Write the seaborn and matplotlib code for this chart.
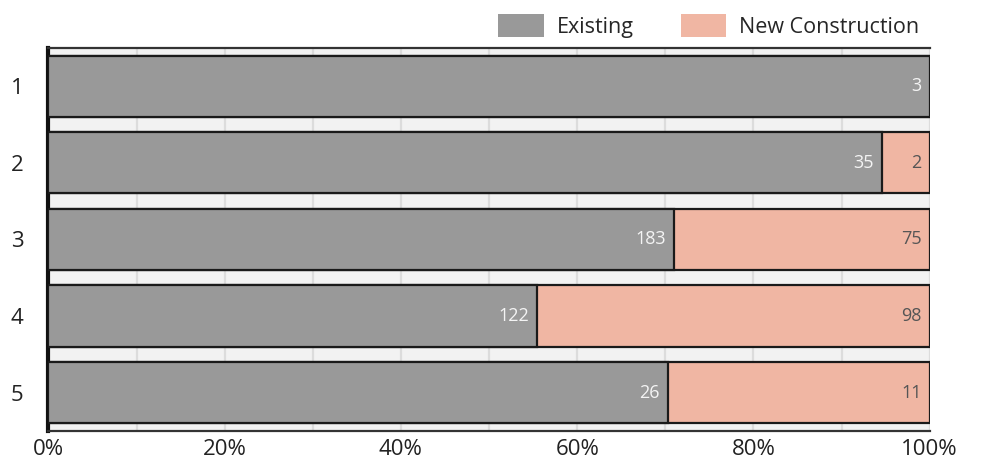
import numpy as np
import pandas as pd
import matplotlib
matplotlib.use("Agg")
import matplotlib.pyplot as plt
import matplotlib.ticker as mticker
from matplotlib.patches import Patch
import seaborn as sns

categories = ["1", "2", "3", "4", "5"]
existing = [3, 35, 183, 122, 26]
new_construction = [0, 2, 75, 98, 11]
series_names = ["Existing", "New Construction"]
colors = ["#999999", "#F0B6A3"]

df = pd.DataFrame({"category": categories,
                   "existing": existing,
                   "new": new_construction})
df["total"] = df["existing"] + df["new"]
df["existing_pct"] = df["existing"] / df["total"] * 100
df["full_pct"] = 100.0

sns.set_theme(style="white")
plt.rcParams["font.family"] = ["Open Sans", "DejaVu Sans"]

fig, ax = plt.subplots(figsize=(9.88, 4.7), dpi=100)
fig.subplots_adjust(left=0.049, right=0.941, top=0.898, bottom=0.083)
ax.set_facecolor("#f2f2f2")

# full-width salmon bars underneath, existing share drawn on top
sns.barplot(data=df, x="full_pct", y="category", orient="h", color=colors[1],
            saturation=1, width=0.8, edgecolor="#1a1a1a", linewidth=1.6,
            ax=ax, zorder=3)
sns.barplot(data=df, x="existing_pct", y="category", orient="h", color=colors[0],
            saturation=1, width=0.8, edgecolor="#1a1a1a", linewidth=1.6,
            ax=ax, zorder=4)

# value labels at the right end of each segment
for i, row in df.iterrows():
    ax.text(row["existing_pct"] - 0.9, i, f"{row['existing']}",
            ha="right", va="center", color="#f4f4f4", fontsize=13, zorder=6)
    if row["new"] > 0:
        ax.text(99.1, i, f"{row['new']}", ha="right", va="center",
                color="#555555", fontsize=13, zorder=6)

ax.set_xlim(0, 100)
ax.set_ylim(4.5, -0.5)
ax.xaxis.set_major_locator(mticker.MultipleLocator(20))
ax.xaxis.set_minor_locator(mticker.MultipleLocator(10))
ax.xaxis.set_major_formatter(mticker.FuncFormatter(lambda v, _: f"{v:.0f}%"))
ax.grid(axis="x", which="both", color="#dcdcdc", linewidth=1.6, zorder=0)
ax.set_axisbelow(True)
ax.tick_params(axis="both", which="both", length=0, labelsize=16, colors="#222222")
ax.tick_params(axis="x", pad=6)
ax.tick_params(axis="y", pad=18)
ax.set_xlabel("")
ax.set_ylabel("")

ax.spines["left"].set_linewidth(3)
ax.spines["left"].set_color("#111111")
for s in ["top", "bottom"]:
    ax.spines[s].set_linewidth(1.6)
    ax.spines[s].set_color("#333333")
ax.spines["right"].set_visible(False)

handles = [Patch(facecolor=c, edgecolor="none") for c in colors]
fig.legend(handles, series_names, loc="upper right", bbox_to_anchor=(0.95, 1.012),
           ncol=2, frameon=False, fontsize=15.5, handlelength=2.1,
           handleheight=1.3, handletextpad=0.6, columnspacing=2.2)

plt.savefig("out.png", dpi=100)
plt.close()
